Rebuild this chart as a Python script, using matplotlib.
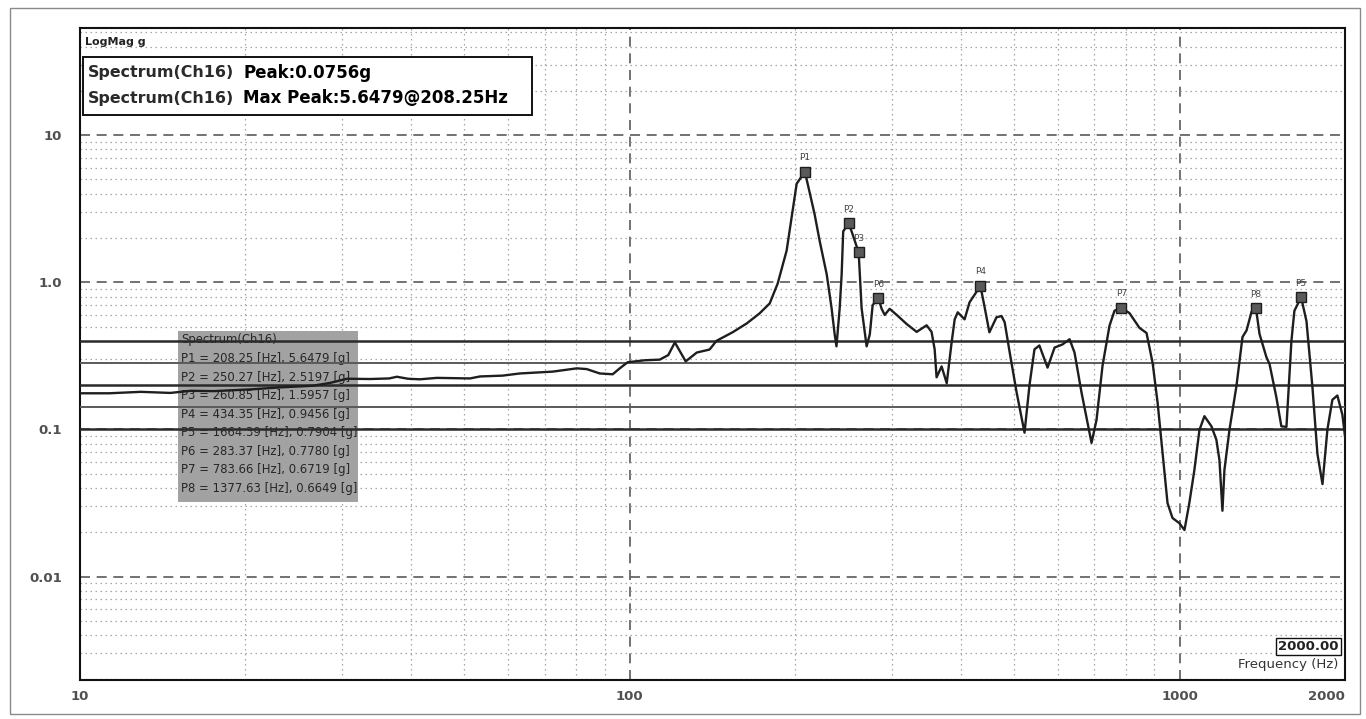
import matplotlib.pyplot as plt
from matplotlib.patches import Rectangle
from matplotlib.ticker import LogLocator, NullFormatter

# spectrum trace (Hz, g)
freq_hz = [10, 11.3, 12.9, 14.6, 15.9, 17.5, 20.4, 23.1, 26.5, 28.5, 30.6, 33.7,
           36.5, 37.7, 39.5, 41.5, 44.6, 51.2, 53.4, 58.7, 63.1, 72.4, 80.1, 83.5,
           88.2, 93.1, 95.9, 99.1, 106.4, 113.4, 117.5, 120.8, 126.4, 132.4, 139.7,
           143.8, 153.8, 163.2, 172.2, 179.7, 185.8, 192.9, 197.0, 201.2, 208.25,
           216.9, 221.6, 228.2, 232.9, 235.9, 237.7, 240.9, 242.9, 244.5, 250.27,
           254.5, 260.85, 264.1, 269.7, 273.3, 276.6, 283.37, 287.2, 290.9, 297.0,
           305.9, 319.0, 332.6, 346.7, 354.0, 358.6, 361.5, 369.2, 377.2, 385.0,
           390.0, 395.0, 406.5, 415.0, 434.35, 442.0, 451.0, 464.6, 474.5, 480.8,
           491.0, 505.4, 522.5, 533.5, 544.7, 556.0, 575.4, 592.6, 612.6, 631.0,
           644.2, 663.4, 691.8, 706.4, 724.4, 745.9, 761.7, 783.66, 811.0, 845.6,
           871.0, 893.6, 912.5, 931.6, 951.0, 971.0, 1000.0, 1021.0, 1042.0, 1064.0,
           1087.0, 1110.0, 1143.0, 1167.0, 1182.0, 1197.0, 1207.0, 1233.0, 1269.0,
           1302.0, 1324.0, 1352.0, 1377.63, 1398.0, 1439.0, 1458.0, 1500.0, 1532.0,
           1565.0, 1598.0, 1618.0, 1664.39, 1702.0, 1745.0, 1782.0, 1820.0, 1858.0,
           1897.0, 1937.0, 1978.0, 2000.0]
mag_g = [0.176, 0.176, 0.180, 0.177, 0.183, 0.182, 0.187, 0.193, 0.198, 0.207, 0.221, 0.220,
         0.222, 0.228, 0.221, 0.219, 0.224, 0.222, 0.229, 0.232, 0.240, 0.247, 0.260, 0.257,
         0.240, 0.237, 0.260, 0.286, 0.295, 0.298, 0.320, 0.390, 0.290, 0.333, 0.349,
         0.400, 0.457, 0.525, 0.614, 0.718, 0.980, 1.64, 2.76, 4.68, 5.6479,
         2.90, 1.90, 1.13, 0.665, 0.443, 0.367, 0.665, 1.13, 2.22, 2.5197,
         2.10, 1.5957, 0.665, 0.367, 0.443, 0.70, 0.778, 0.66, 0.60, 0.66,
         0.60, 0.52, 0.46, 0.51, 0.46, 0.35, 0.226, 0.268, 0.206, 0.39,
         0.56, 0.625, 0.56, 0.73, 0.9456, 0.68, 0.457, 0.578, 0.59, 0.535,
         0.334, 0.179, 0.095, 0.20, 0.35, 0.372, 0.263, 0.36, 0.378, 0.41,
         0.333, 0.178, 0.081, 0.116, 0.271, 0.507, 0.641, 0.6719, 0.617, 0.49,
         0.452, 0.282, 0.151, 0.069, 0.0316, 0.025, 0.023, 0.0207, 0.0316, 0.0526,
         0.099, 0.123, 0.105, 0.085, 0.062, 0.028, 0.053, 0.10, 0.196,
         0.425, 0.47, 0.63, 0.6649, 0.446, 0.31, 0.278, 0.166, 0.105,
         0.104, 0.40, 0.64, 0.7904, 0.544, 0.194, 0.068, 0.0425, 0.10,
         0.159, 0.17, 0.126, 0.09]

peak_names = ['P1', 'P2', 'P3', 'P4', 'P5', 'P6', 'P7', 'P8']
peak_freq = [208.25, 250.27, 260.85, 434.35, 1664.39, 283.37, 783.66, 1377.63]
peak_mag = [5.6479, 2.5197, 1.5957, 0.9456, 0.7904, 0.7780, 0.6719, 0.6649]

# tolerance lines across the plot
limit_dark = [0.4, 0.2, 0.1]
limit_grey = [0.283, 0.141]

x_ticks = [10, 100, 1000, 2000]
x_ticklabels = ['10', '100', '1000', '2000']
y_ticks = [0.01, 0.1, 1, 10]
y_ticklabels = ['0.01', '0.1', '1.0', '10']

fig = plt.figure(figsize=(13.66, 7.19), dpi=100)
ax = fig.add_axes([80 / 1366, 1 - 680 / 719, 1265 / 1366, 652 / 719])

ax.set_xscale('log')
ax.set_yscale('log')
ax.set_xlim(10, 2000)
ax.set_ylim(0.00198, 53.5)

ax.xaxis.set_minor_locator(LogLocator(base=10, subs=range(2, 10), numticks=20))
ax.yaxis.set_minor_locator(LogLocator(base=10, subs=range(2, 10), numticks=20))
ax.xaxis.set_minor_formatter(NullFormatter())
ax.yaxis.set_minor_formatter(NullFormatter())
ax.set_xticks(x_ticks)
ax.set_xticklabels(x_ticklabels, fontweight='bold')
ax.set_yticks(y_ticks)
ax.set_yticklabels(y_ticklabels, fontweight='bold')
ax.get_xticklabels()[-1].set_ha('right')
ax.tick_params(which='both', length=0)
ax.tick_params(axis='x', pad=7, labelsize=9.5, labelcolor='#505050')
ax.tick_params(axis='y', pad=13, labelsize=9.5, labelcolor='#505050')

ax.grid(which='major', ls=(0, (6, 4)), color='#5a5a5a', lw=1.2)
ax.grid(which='minor', ls=(0, (1.2, 2.8)), color='#a5a5a5', lw=0.9)
for sp in ax.spines.values():
    sp.set_color('#111111')
    sp.set_linewidth(1.5)

for v in limit_dark:
    ax.axhline(v, color='#2a2a2a', lw=1.8, zorder=3)
for v in limit_grey:
    ax.axhline(v, color='#5a5a5a', lw=1.4, zorder=3)

ax.plot(freq_hz, mag_g, color='#1e1e1e', lw=1.7, zorder=4)

ax.plot(peak_freq, peak_mag, ls='none', marker='s', ms=7,
        mfc='#5a5a5a', mec='#1e1e1e', mew=1, zorder=5)
for name, f, m in zip(peak_names, peak_freq, peak_mag):
    ax.annotate(name, (f, m), xytext=(0, 7), textcoords='offset points',
                ha='center', va='bottom', fontsize=6.5, color='#444444', zorder=5)

# peak table box
ax.add_patch(Rectangle((0.0775, 0.273), 0.142, 0.262, transform=ax.transAxes,
                       facecolor='#a2a2a2', edgecolor='none', zorder=1.6))
table_lines = ['Spectrum(Ch16)'] + [
    '%s = %.2f [Hz], %.4f [g]' % (n, f, m)
    for n, f, m in zip(peak_names, peak_freq, peak_mag)]
for i, line in enumerate(table_lines):
    ax.text(0.0798, 0.5215 - i * 0.0284, line, transform=ax.transAxes,
            fontsize=8.4, color='#262626', va='center', ha='left', zorder=1.7)

# legend-like header box
ax.text(0.004, 0.9785, 'LogMag g', transform=ax.transAxes, fontsize=8,
        weight='bold', color='#222222', va='center', zorder=6)
ax.add_patch(Rectangle((0.0024, 0.8666), 0.355, 0.0889, transform=ax.transAxes,
                       facecolor='white', edgecolor='#111111', lw=1.4, zorder=5))
ax.text(0.0063, 0.931, 'Spectrum(Ch16)', transform=ax.transAxes, fontsize=11.4,
        weight='bold', color='#2a2a2a', va='center', zorder=6)
ax.text(0.0063, 0.8926, 'Spectrum(Ch16)', transform=ax.transAxes, fontsize=11.4,
        weight='bold', color='#2a2a2a', va='center', zorder=6)
ax.text(0.129, 0.931, 'Peak:0.0756g', transform=ax.transAxes, fontsize=12,
        weight='bold', color='black', va='center', zorder=7,
        bbox=dict(boxstyle='square,pad=0.1', fc='white', ec='none'))
ax.text(0.129, 0.8926, 'Max Peak:5.6479@208.25Hz', transform=ax.transAxes, fontsize=12,
        weight='bold', color='black', va='center', zorder=7,
        bbox=dict(boxstyle='square,pad=0.1', fc='white', ec='none'))

# cursor readout at bottom right
ax.text(0.995, 0.052, '2000.00', transform=ax.transAxes, fontsize=9.5, weight='bold',
        color='#222222', ha='right', va='center', zorder=6,
        bbox=dict(boxstyle='square,pad=0.15', fc='white', ec='#111111', lw=1))
ax.text(0.995, 0.024, 'Frequency (Hz)', transform=ax.transAxes, fontsize=9.5,
        color='#333333', ha='right', va='center', zorder=6)

# scan frame
fig.add_artist(Rectangle((10 / 1366, 5 / 719), 1350 / 1366, 706 / 719,
                         transform=fig.transFigure, fill=False, ec='#8a8a8a', lw=1))

fig.savefig('out.png', dpi=100)
